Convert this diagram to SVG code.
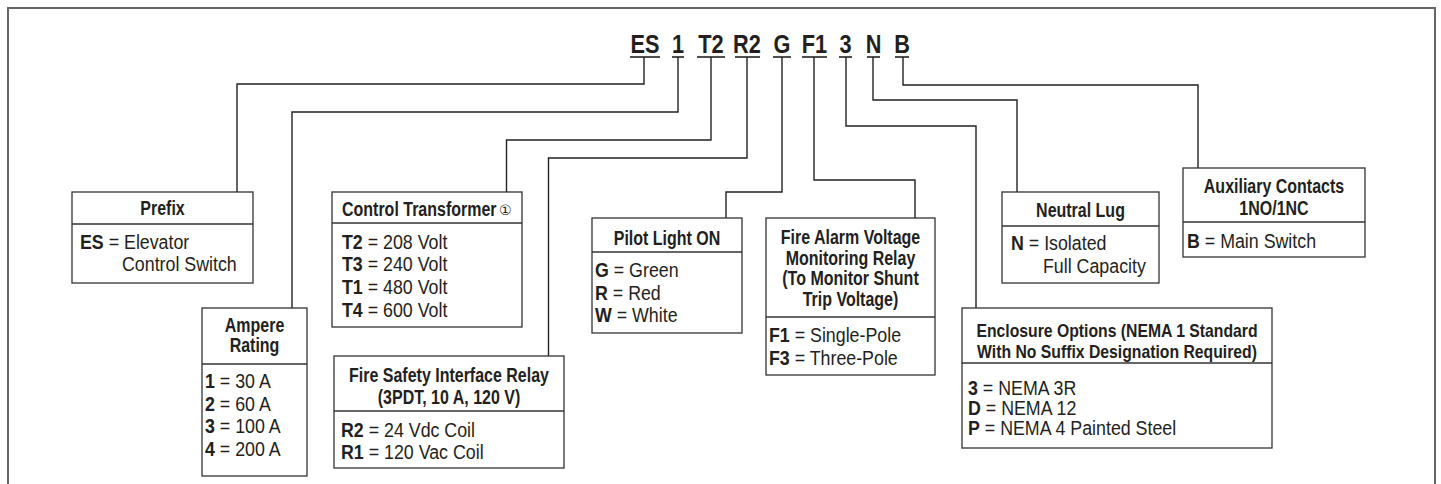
<svg xmlns="http://www.w3.org/2000/svg" width="1441" height="484" viewBox="0 0 1441 484">
<style>
text{font-family:"Liberation Sans Narrow","Liberation Sans",Arial,sans-serif;fill:#231f20}
.code{font-size:26.5px;font-weight:bold;text-anchor:middle}
.h{font-size:19.5px;font-weight:bold;text-anchor:middle}
.hs{font-size:19px;font-weight:bold;text-anchor:middle}
.hl{font-size:19.5px;font-weight:bold}
.i{font-size:20px}
.i tspan.k{font-weight:bold}
.box{fill:#fff;stroke:#333;stroke-width:1.3}
.sep{stroke:#333;stroke-width:1.3}
.con{fill:none;stroke:#222;stroke-width:1.4}
.ul{stroke:#222;stroke-width:1.6}
.frame{fill:none;stroke:#666;stroke-width:2}
</style>
<path class="frame" d="M8,484 V8 H1435 V484"/>
<g id="code">
<text class="code" transform="translate(645 53) scale(0.82 1)">ES</text>
<text class="code" transform="translate(678 53) scale(0.82 1)">1</text>
<text class="code" transform="translate(711 53) scale(0.82 1)">T2</text>
<text class="code" transform="translate(747 53) scale(0.82 1)">R2</text>
<text class="code" transform="translate(782 53) scale(0.82 1)">G</text>
<text class="code" transform="translate(814.5 53) scale(0.82 1)">F1</text>
<text class="code" transform="translate(845.5 53) scale(0.82 1)">3</text>
<text class="code" transform="translate(873.5 53) scale(0.82 1)">N</text>
<text class="code" transform="translate(902 53) scale(0.82 1)">B</text>
<line class="ul" x1="630" y1="57" x2="660" y2="57"/>
<line class="ul" x1="672" y1="57" x2="684" y2="57"/>
<line class="ul" x1="697" y1="57" x2="725" y2="57"/>
<line class="ul" x1="735" y1="57" x2="760" y2="57"/>
<line class="ul" x1="773" y1="57" x2="791" y2="57"/>
<line class="ul" x1="802" y1="57" x2="827" y2="57"/>
<line class="ul" x1="839" y1="57" x2="852" y2="57"/>
<line class="ul" x1="867" y1="57" x2="880" y2="57"/>
<line class="ul" x1="895" y1="57" x2="909" y2="57"/>
</g>
<g id="connectors">
<path class="con" d="M644,57 V84 H237 V192"/>
<path class="con" d="M678,57 V112 H292 V308"/>
<path class="con" d="M711,57 V140 H506.5 V192"/>
<path class="con" d="M747,57 V158 H548.5 V356"/>
<path class="con" d="M782,57 V192 H726 V218"/>
<path class="con" d="M814,57 V180 H915 V218"/>
<path class="con" d="M846,57 V126 H976 V308"/>
<path class="con" d="M873,57 V100 H1017 V192"/>
<path class="con" d="M903,57 V85 H1198 V168"/>
</g>
<g id="prefix">
<rect class="box" x="72" y="192" width="181" height="91"/>
<line class="sep" x1="72" y1="224" x2="253" y2="224"/>
<text class="h" transform="translate(162.5 215) scale(0.82 1)">Prefix</text>
<text class="i" transform="translate(80 249) scale(0.89 1)"><tspan class="k">ES</tspan> = Elevator</text>
<text class="i" transform="translate(122 271) scale(0.89 1)">Control Switch</text>
</g>
<g id="ampere">
<rect class="box" x="202" y="308" width="105" height="168"/>
<line class="sep" x1="202" y1="364" x2="307" y2="364"/>
<text class="h" transform="translate(254.5 332) scale(0.82 1)">Ampere</text>
<text class="h" transform="translate(254.5 352) scale(0.82 1)">Rating</text>
<text class="i" transform="translate(205 388) scale(0.89 1)"><tspan class="k">1</tspan> = 30 A</text>
<text class="i" transform="translate(205 410.5) scale(0.89 1)"><tspan class="k">2</tspan> = 60 A</text>
<text class="i" transform="translate(205 433) scale(0.89 1)"><tspan class="k">3</tspan> = 100 A</text>
<text class="i" transform="translate(205 456) scale(0.89 1)"><tspan class="k">4</tspan> = 200 A</text>
</g>
<g id="transformer">
<rect class="box" x="332" y="192" width="190" height="135"/>
<line class="sep" x1="332" y1="223" x2="522" y2="223"/>
<text class="hl" transform="translate(342 216) scale(0.82 1)">Control Transformer</text>
<text x="499" y="214.5" style="font-family:'DejaVu Sans',sans-serif;font-size:14px">①</text>
<text class="i" transform="translate(342 249) scale(0.89 1)"><tspan class="k">T2</tspan> = 208 Volt</text>
<text class="i" transform="translate(342 271) scale(0.89 1)"><tspan class="k">T3</tspan> = 240 Volt</text>
<text class="i" transform="translate(342 294) scale(0.89 1)"><tspan class="k">T1</tspan> = 480 Volt</text>
<text class="i" transform="translate(342 317) scale(0.89 1)"><tspan class="k">T4</tspan> = 600 Volt</text>
</g>
<g id="firesafety">
<rect class="box" x="334" y="356" width="230" height="112"/>
<line class="sep" x1="334" y1="411" x2="564" y2="411"/>
<text class="h" transform="translate(449 382) scale(0.82 1)">Fire Safety Interface Relay</text>
<text class="h" transform="translate(449 404) scale(0.82 1)">(3PDT, 10 A, 120 V)</text>
<text class="i" transform="translate(341 437) scale(0.89 1)"><tspan class="k">R2</tspan> = 24 Vdc Coil</text>
<text class="i" transform="translate(341 459) scale(0.89 1)"><tspan class="k">R1</tspan> = 120 Vac Coil</text>
</g>
<g id="pilot">
<rect class="box" x="592" y="218" width="150" height="115"/>
<line class="sep" x1="592" y1="252" x2="742" y2="252"/>
<text class="h" transform="translate(667 245) scale(0.82 1)">Pilot Light ON</text>
<text class="i" transform="translate(595 277) scale(0.89 1)"><tspan class="k">G</tspan> = Green</text>
<text class="i" transform="translate(595 300) scale(0.89 1)"><tspan class="k">R</tspan> = Red</text>
<text class="i" transform="translate(595 322) scale(0.89 1)"><tspan class="k">W</tspan> = White</text>
</g>
<g id="firealarm">
<rect class="box" x="766" y="218" width="169" height="157"/>
<line class="sep" x1="766" y1="317" x2="935" y2="317"/>
<text class="h" transform="translate(850.5 244) scale(0.82 1)">Fire Alarm Voltage</text>
<text class="h" transform="translate(850.5 264.5) scale(0.82 1)">Monitoring Relay</text>
<text class="h" transform="translate(850.5 285) scale(0.82 1)">(To Monitor Shunt</text>
<text class="h" transform="translate(850.5 306) scale(0.82 1)">Trip Voltage)</text>
<text class="i" transform="translate(769 342) scale(0.89 1)"><tspan class="k">F1</tspan> = Single-Pole</text>
<text class="i" transform="translate(769 365) scale(0.89 1)"><tspan class="k">F3</tspan> = Three-Pole</text>
</g>
<g id="neutral">
<rect class="box" x="1002" y="192" width="157" height="91"/>
<line class="sep" x1="1002" y1="226" x2="1159" y2="226"/>
<text class="h" transform="translate(1080.5 217) scale(0.82 1)">Neutral Lug</text>
<text class="i" transform="translate(1011 250) scale(0.89 1)"><tspan class="k">N</tspan> = Isolated</text>
<text class="i" transform="translate(1043 273) scale(0.89 1)">Full Capacity</text>
</g>
<g id="auxiliary">
<rect class="box" x="1183" y="168" width="182" height="89"/>
<line class="sep" x1="1183" y1="222" x2="1365" y2="222"/>
<text class="h" transform="translate(1274 193) scale(0.82 1)">Auxiliary Contacts</text>
<text class="h" transform="translate(1274 215) scale(0.82 1)">1NO/1NC</text>
<text class="i" transform="translate(1187 248) scale(0.89 1)"><tspan class="k">B</tspan> = Main Switch</text>
</g>
<g id="enclosure">
<rect class="box" x="962" y="308" width="310" height="140"/>
<line class="sep" x1="962" y1="363" x2="1272" y2="363"/>
<text class="hs" transform="translate(1117 337) scale(0.83 1)">Enclosure Options (NEMA 1 Standard</text>
<text class="hs" transform="translate(1117 357.5) scale(0.83 1)">With No Suffix Designation Required)</text>
<text class="i" transform="translate(968 395) scale(0.89 1)"><tspan class="k">3</tspan> = NEMA 3R</text>
<text class="i" transform="translate(968 415) scale(0.89 1)"><tspan class="k">D</tspan> = NEMA 12</text>
<text class="i" transform="translate(968 435) scale(0.89 1)"><tspan class="k">P</tspan> = NEMA 4 Painted Steel</text>
</g>
</svg>
